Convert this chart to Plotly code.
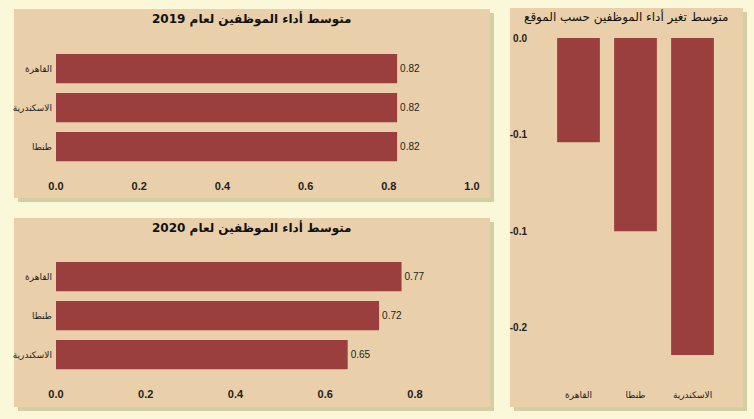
import plotly.graph_objects as go

W, H = 754, 419

# data
cities_2019 = ['القاهرة', 'الاسكندرية', 'طنطا']
perf_2019 = [0.82, 0.82, 0.82]
cities_2020 = ['القاهرة', 'طنطا', 'الاسكندرية']
perf_2020 = [0.77, 0.72, 0.65]
cities_change = ['القاهرة', 'طنطا', 'الاسكندرية']
perf_change = [-0.054, -0.100, -0.164]

x_ticks_2019 = [0.0, 0.2, 0.4, 0.6, 0.8, 1.0]
x_ticks_2020 = [0.0, 0.2, 0.4, 0.6, 0.8]
change_tickvals = [0.0, -0.05, -0.10, -0.15]
change_ticktext = ['0.0', '-0.1', '-0.1', '-0.2']

titles = ['متوسط أداء الموظفين لعام 2019', 'متوسط أداء الموظفين لعام 2020', 'متوسط تغير أداء الموظفين حسب الموقع']

bar_color = '#9A3F3D'
panel_color = '#E9D0AA'
shadow_color = '#D3CFA2'
page_color = '#FBF7D9'
arabic_font = 'DejaVu Sans'
num_font = 'Liberation Sans'


def px_x(p):
    return p / W


def px_y(p):
    return 1 - p / H


fig = go.Figure()

fig.add_trace(go.Bar(x=perf_2019, y=cities_2019, orientation='h', marker_color=bar_color,
                     text=perf_2019, texttemplate='%{x:.2f}', textposition='outside',
                     textfont=dict(family=num_font, size=10, color='#222'),
                     xaxis='x', yaxis='y', cliponaxis=False))
fig.add_trace(go.Bar(x=perf_2020, y=cities_2020, orientation='h', marker_color=bar_color,
                     text=perf_2020, texttemplate='%{x:.2f}', textposition='outside',
                     textfont=dict(family=num_font, size=10, color='#222'),
                     xaxis='x2', yaxis='y2', cliponaxis=False))
fig.add_trace(go.Bar(x=cities_change, y=perf_change, marker_color=bar_color,
                     xaxis='x3', yaxis='y3'))

tick_font = dict(family=num_font, size=11, color='#222', weight='bold')
cat_font = dict(family=arabic_font, size=9, color='#222')

fig.update_layout(
    template='none',
    width=W, height=H, margin=dict(l=0, r=0, t=0, b=0, autoexpand=False),
    paper_bgcolor=page_color, plot_bgcolor='rgba(0,0,0,0)',
    showlegend=False, bargap=0.25,
    xaxis=dict(domain=[px_x(56), px_x(472)], range=[0, 1.0], tickvals=x_ticks_2019,
               tickformat='.1f', showgrid=False, zeroline=False, showline=False, ticks='',
               tickfont=tick_font, anchor='y', ticklabelstandoff=12, automargin=False),
    yaxis=dict(domain=[px_y(166), px_y(49)], autorange='reversed', showgrid=False, ticks='',
               tickfont=cat_font, anchor='x', ticklabelstandoff=3, automargin=False),
    xaxis2=dict(domain=[px_x(56), px_x(415)], range=[0, 0.8], tickvals=x_ticks_2020,
                tickformat='.1f', showgrid=False, zeroline=False, showline=False, ticks='',
                tickfont=tick_font, anchor='y2', ticklabelstandoff=12, automargin=False),
    yaxis2=dict(domain=[px_y(374), px_y(257)], autorange='reversed', showgrid=False, ticks='',
                tickfont=cat_font, anchor='x2', ticklabelstandoff=3, automargin=False),
    xaxis3=dict(domain=[px_x(550), px_x(721)], showgrid=False, tickfont=cat_font, ticks='',
                anchor='y3', ticklabelstandoff=8, automargin=False),
    yaxis3=dict(domain=[px_y(380), px_y(38)], range=[-0.177, 0], tickvals=change_tickvals,
                ticktext=change_ticktext, showgrid=False, zeroline=False, ticks='',
                tickfont=dict(family=num_font, size=10, color='#222', weight='bold'),
                anchor='x3', ticklabelstandoff=22, automargin=False),
)

# panels with soft shadows
panels = [(14, 9, 490, 198), (14, 218, 490, 407), (510, 8, 743, 407)]
shapes = []
for x0, y0, x1, y1 in panels:
    shapes.append(dict(type='rect', xref='paper', yref='paper', layer='below',
                       x0=px_x(x0 + 4), x1=px_x(x1 + 4), y0=px_y(y1 + 4), y1=px_y(y0 + 4),
                       fillcolor=shadow_color, line_width=0))
    shapes.append(dict(type='rect', xref='paper', yref='paper', layer='below',
                       x0=px_x(x0), x1=px_x(x1), y0=px_y(y1), y1=px_y(y0),
                       fillcolor=panel_color, line_width=0))
fig.update_layout(shapes=shapes)

title_pos = [(252, 19, 12, 'bold'), (252, 228, 12, 'bold'), (626, 17, 12, 'normal')]
for t, (cx, cy, fs, wt) in zip(titles, title_pos):
    fig.add_annotation(text=t, x=px_x(cx), y=px_y(cy), xref='paper', yref='paper',
                       showarrow=False, xanchor='center', yanchor='middle',
                       font=dict(family=arabic_font, size=fs, color='#111', weight=wt))

fig.write_html("out.html", config={'displayModeBar': False},
               post_script="document.body.style.margin='0';")
